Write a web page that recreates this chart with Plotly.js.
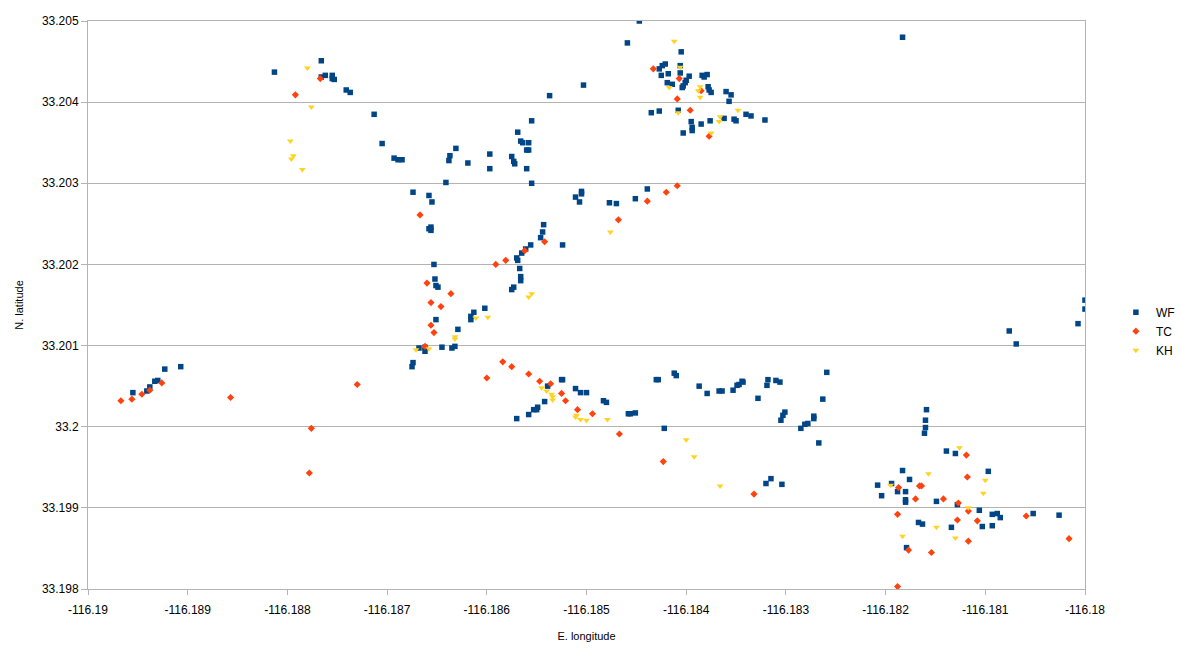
<!DOCTYPE html>
<html>
<head>
<meta charset="utf-8">
<script src="https://cdn.plot.ly/plotly-3.0.1.min.js"></script>
<style>
html,body{margin:0;padding:0;background:#fff;}
#chart{width:1180px;height:664px;}
</style>
</head>
<body>
<div id="chart"></div>
<script>
// ---- Data ----
var seriesNames = ["WF", "TC", "KH"];

var wfLon = [
-116.18813,-116.18766,-116.18766,-116.18762,-116.18755,-116.18755,-116.18753,
-116.18741,-116.18737,-116.18713,-116.18705,-116.18693,-116.18689,-116.18685,-116.18674,-116.18658,-116.18655,-116.18641,-116.18637,-116.18638,-116.18631,-116.18619,-116.18597,-116.18597,-116.18575,-116.18573,-116.18572,-116.18569,-116.18566,-116.18564,-116.18558,-116.18560,-116.18558,-116.18560,-116.18555,-116.18555,-116.18537,-116.18503,-116.18505,-116.18505,-116.18511,-116.18507,
-116.18447,-116.18459,-116.18405,-116.18427,-116.18424,-116.18421,-116.18406,-116.18425,-116.18418,-116.18406,-116.18397,-116.18400,-116.18401,-116.18419,-116.18414,-116.18404,-116.18403,-116.18384,-116.18379,-116.18382,-116.18378,-116.18377,-116.18375,-116.18360,-116.18355,-116.18357,-116.18435,-116.18427,-116.18408,-116.18395,-116.18394,-116.18394,-116.18403,-116.18385,-116.18376,-116.18362,-116.18352,-116.18350,-116.18340,-116.18335,-116.18321,-116.18439,-116.18451,-116.18477,-116.18470,
-116.18656,-116.18658,-116.18656,-116.18543,-116.18544,-116.18546,-116.18524,-116.18556,-116.18561,-116.18565,-116.18570,-116.18569,-116.18653,-116.18567,-116.18566,-116.18566,-116.18573,-116.18575,-116.18652,-116.18651,-116.18649,-116.18651,-116.18613,-116.18602,-116.18616,-116.18616,-116.18629,
-116.18668,-116.18662,-116.18662,-116.18645,-116.18635,-116.18632,-116.18674,-116.18675,-116.18539,-116.18525,-116.18524,-116.18511,-116.18506,-116.18500,-116.18483,-116.18480,-116.18542,-116.18549,-116.18550,-116.18553,-116.18558,-116.18570,
-116.18955,-116.18941,-116.18938,-116.18933,-116.18930,-116.18923,-116.18907,
-116.18458,-116.18456,-116.18451,-116.18422,-116.18430,-116.18428,-116.18412,-116.18410,-116.18387,-116.18379,-116.18367,-116.18364,-116.18353,-116.18349,-116.18347,-116.18344,-116.18343,-116.18328,-116.18318,-116.18319,-116.18310,-116.18306,-116.18301,-116.18303,-116.18305,-116.18285,-116.18281,-116.18278,-116.18272,-116.18272,-116.18263,-116.18259,-116.18267,-116.18320,-116.18315,-116.18304,
-116.18000,-116.18000,-116.18007,-116.18076,-116.18069,-116.18159,-116.18160,-116.18160,-116.18161,-116.18139,-116.18130,
-116.18183,-116.18176,-116.18208,-116.18194,-116.18204,-116.18188,-116.18180,-116.18180,-116.18180,-116.18149,-116.18128,-116.18097,-116.18106,-116.18093,-116.18088,-116.18085,-116.18103,-116.18093,-116.18134,-116.18167,-116.18163,-116.18179,-116.18052,-116.18026,
-116.18183
];
var wfLat = [
33.20437,33.20451,33.20431,33.20433,33.20433,33.20429,33.20428,
33.20415,33.20412,33.20385,33.20349,33.20331,33.20329,33.20329,33.20289,33.20285,33.20277,33.20301,33.20334,33.20328,33.20343,33.20325,33.20336,33.20318,33.20333,33.20327,33.20324,33.20363,33.20352,33.20350,33.20350,33.20341,33.20341,33.20318,33.20377,33.20300,33.20408,33.20421,33.20290,33.20287,33.20283,33.20277,
33.20500,33.20473,33.20462,33.20441,33.20445,33.20447,33.20445,33.20433,33.20435,33.20436,33.20432,33.20427,33.20424,33.20424,33.20422,33.20418,33.20420,33.20433,33.20434,33.20431,33.20419,33.20415,33.20412,33.20413,33.20409,33.20401,33.20387,33.20389,33.20390,33.20376,33.20369,33.20365,33.20362,33.20373,33.20377,33.20380,33.20379,33.20377,33.20385,33.20383,33.20378,33.20293,33.20281,33.20276,33.20275,
33.20246,33.20244,33.20242,33.20249,33.20240,33.20233,33.20224,33.20224,33.20219,33.20214,33.20208,33.20205,33.20200,33.20195,33.20185,33.20180,33.20172,33.20169,33.20182,33.20174,33.20172,33.20132,33.20141,33.20146,33.20136,33.20132,33.20120,
33.20097,33.20098,33.20093,33.20098,33.20097,33.20099,33.20079,33.20074,33.20050,33.20058,33.20058,33.20047,33.20042,33.20042,33.20032,33.20030,33.20031,33.20024,33.20021,33.20021,33.20015,33.20010,
33.20042,33.20044,33.20049,33.20056,33.20057,33.20071,33.20074,
33.20016,33.20016,33.20017,33.19998,33.20058,33.20058,33.20066,33.20063,33.20050,33.20041,33.20044,33.20044,33.20045,33.20051,33.20052,33.20056,33.20055,33.20035,33.20058,33.20051,33.20057,33.20055,33.20018,33.20014,33.20008,33.19998,33.20003,33.20004,33.20013,33.20010,33.20034,33.20067,33.19980,33.19930,33.19936,33.19929,
33.20156,33.20145,33.20127,33.20118,33.20102,33.20021,33.20008,33.19999,33.19992,33.19970,33.19967,
33.19946,33.19935,33.19928,33.19930,33.19915,33.19920,33.19920,33.19910,33.19907,33.19908,33.19904,33.19945,33.19897,33.19892,33.19893,33.19888,33.19877,33.19878,33.19876,33.19882,33.19880,33.19851,33.19893,33.19891,
33.20480
];

var tcLon = [
-116.18767,-116.18792,-116.18433,-116.18407,-116.18385,-116.18409,-116.18396,-116.18377,-116.18420,-116.18409,-116.18439,-116.18468,
-116.18667,-116.18542,-116.18562,-116.18581,-116.18591,-116.18660,-116.18636,-116.18656,-116.18646,-116.18656,-116.18653,-116.18662,
-116.18730,-116.18600,-116.18584,-116.18575,-116.18558,-116.18547,-116.18536,-116.18525,-116.18521,-116.18509,-116.18494,
-116.18967,-116.18956,-116.18946,-116.18938,-116.18926,-116.18857,-116.18776,-116.18778,
-116.18467,-116.18423,-116.18332,
-116.18119,-116.18187,-116.18166,-116.18164,-116.18170,-116.18142,-116.18127,-116.18118,-116.18117,-116.18108,-116.18128,-116.18188,-116.18117,-116.18177,-116.18154,-116.18188,-116.18059,-116.18016
];
var tcLat = [
33.20429,33.20409,33.20441,33.20429,33.20414,33.20404,33.20390,33.20358,33.20289,33.20297,33.20278,33.20255,
33.20261,33.20228,33.20217,33.20205,33.20200,33.20177,33.20164,33.20153,33.20148,33.20125,33.20116,33.20099,
33.20052,33.20060,33.20080,33.20074,33.20065,33.20056,33.20053,33.20041,33.20032,33.20021,33.20016,
33.20032,33.20034,33.20040,33.20045,33.20054,33.20036,33.19998,33.19943,
33.19991,33.19957,33.19917,
33.19965,33.19925,33.19927,33.19927,33.19911,33.19911,33.19906,33.19938,33.19896,33.19884,33.19885,33.19892,33.19859,33.19848,33.19845,33.19803,33.19890,33.19862
];

var khLon = [
-116.18780,-116.18776,-116.18797,-116.18794,-116.18796,-116.18785,
-116.18412,-116.18406,-116.18417,-116.18386,-116.18388,-116.18386,-116.18408,-116.18366,-116.18367,-116.18375,-116.18348,
-116.18476,-116.18555,-116.18558,-116.18611,-116.18599,-116.18632,-116.18632,-116.18671,-116.18658,
-116.18545,-116.18540,-116.18535,-116.18534,-116.18534,-116.18510,-116.18511,-116.18506,-116.18500,-116.18479,
-116.18400,-116.18392,-116.18366,
-116.18126,-116.18157,-116.18195,-116.18100,-116.18102,-116.18117,-116.18149,-116.18183,-116.18130
];
var khLat = [
33.20442,33.20394,33.20352,33.20334,33.20330,33.20317,
33.20475,33.20443,33.20418,33.20419,33.20414,33.20406,33.20387,33.20382,33.20376,33.20362,33.20390,
33.20240,33.20164,33.20160,33.20134,33.20135,33.20111,33.20108,33.20095,33.20096,
33.20048,33.20044,33.20040,33.20037,33.20033,33.20014,33.20012,33.20009,33.20008,33.20009,
33.19984,33.19963,33.19927,
33.19974,33.19942,33.19928,33.19934,33.19918,33.19900,33.19876,33.19865,33.19863
];

var xTickVals = [-116.19,-116.189,-116.188,-116.187,-116.186,-116.185,-116.184,-116.183,-116.182,-116.181,-116.18];
var xTickText = ["-116.19","-116.189","-116.188","-116.187","-116.186","-116.185","-116.184","-116.183","-116.182","-116.181","-116.18"];
var yTickVals = [33.198,33.199,33.2,33.201,33.202,33.203,33.204,33.205];
var yTickText = ["33.198","33.199","33.2","33.201","33.202","33.203","33.204","33.205"];

var xTitle = "E. longitude";
var yTitle = "N. latitude";

// ---- Chart ----
var FONT = "Liberation Sans, Arial, sans-serif";
var traces = [
  {x: wfLon, y: wfLat, name: seriesNames[0], type: "scatter", mode: "markers",
   marker: {symbol: "square", size: 5.5, color: "#004586"}},
  {x: tcLon, y: tcLat, name: seriesNames[1], type: "scatter", mode: "markers",
   marker: {symbol: "diamond", size: 5.5, color: "#ff420e"}},
  {x: khLon, y: khLat, name: seriesNames[2], type: "scatter", mode: "markers",
   marker: {symbol: "triangle-down", size: 6, color: "#ffd320"}}
];

var layout = {
  width: 1180, height: 664,
  margin: {l: 88, r: 95, t: 21, b: 75, pad: 0, autoexpand: false},
  paper_bgcolor: "#ffffff", plot_bgcolor: "#ffffff",
  font: {family: FONT, size: 12, color: "#000000"},
  showlegend: true,
  legend: {x: 1.031, y: 0.454, xanchor: "left", yanchor: "middle",
           font: {family: FONT, size: 12, color: "#000000"},
           itemwidth: 30, bgcolor: "rgba(0,0,0,0)"},
  xaxis: {
    range: [-116.19, -116.18], tickmode: "array", tickvals: xTickVals, ticktext: xTickText,
    showgrid: false, zeroline: false, showline: true, mirror: true, linecolor: "#b3b3b3", linewidth: 1,
    ticks: "outside", ticklen: 5, tickcolor: "#b3b3b3", ticklabelstandoff: 5,
    automargin: false,
    tickfont: {family: FONT, size: 12, color: "#000000"},
    title: {text: xTitle, standoff: 15, font: {family: FONT, size: 11, color: "#000000"}}
  },
  yaxis: {
    range: [33.198, 33.205], tickmode: "array", tickvals: yTickVals, ticktext: yTickText,
    showgrid: true, gridcolor: "#b3b3b3", gridwidth: 1, zeroline: false,
    showline: true, mirror: true, linecolor: "#b3b3b3", linewidth: 1,
    ticks: "outside", ticklen: 6, tickcolor: "#b3b3b3",
    automargin: false,
    tickfont: {family: FONT, size: 12, color: "#000000"},
    title: {text: yTitle, standoff: 16, font: {family: FONT, size: 11, color: "#000000"}}
  }
};

Plotly.newPlot("chart", traces, layout, {displayModeBar: false, staticPlot: true});
</script>
</body>
</html>
